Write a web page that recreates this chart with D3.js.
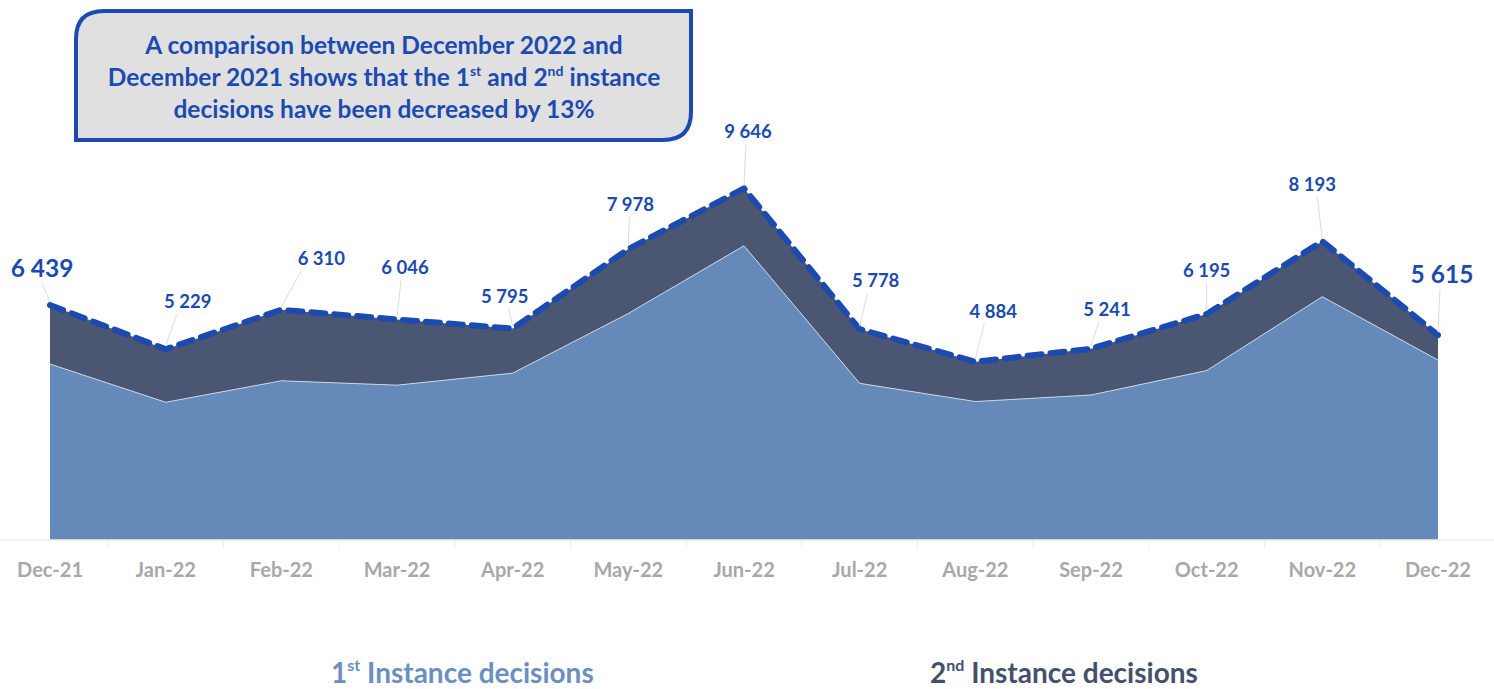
<!DOCTYPE html>
<html>
<head>
<meta charset="utf-8">
<script src="https://cdn.jsdelivr.net/npm/d3@7"></script>
<style>
  body { margin: 0; background: #fff; }
  svg { display: block; font-family: Lato, "Noto Sans", sans-serif; }
</style>
</head>
<body>
<svg id="chart" width="1494" height="689"></svg>
<script>
// months on the category axis
var months = ['Dec-21', 'Jan-22', 'Feb-22', 'Mar-22', 'Apr-22', 'May-22', 'Jun-22',
              'Jul-22', 'Aug-22', 'Sep-22', 'Oct-22', 'Nov-22', 'Dec-22'];
// 1st instance decisions
var first = [4820, 3770, 4360, 4240, 4570, 6210, 8070, 4290, 3790, 3970, 4640, 6670, 4930];
// 2nd instance decisions (dark band on top)
var second = [1619, 1459, 1950, 1806, 1225, 1768, 1576, 1488, 1094, 1271, 1555, 1523, 685];
// totals printed as data labels
var totals = [6439, 5229, 6310, 6046, 5795, 7978, 9646, 5778, 4884, 5241, 6195, 8193, 5615];

// where each data label sits relative to its point (px)
var labelPos = [[-8, -28], [22, -41], [40, -45], [8, -45], [-8, -26], [2, -38], [4, -50],
                [16, -42], [18, -44], [16, -33], [0, -37], [-10, -50], [4, -52]];

var svg = d3.select('#chart');
var blue = '#1b4bb0';

var x = d3.scaleBand().domain(months).range([-7.8, 1495.8]);
var y = d3.scaleLinear().domain([0, 10000]).range([539.5, 175.5]);
var cx = function (d, i) { return x(months[i]) + x.bandwidth() / 2; };

var rows = months.map(function (m, i) { return { month: m, first: first[i], second: second[i] }; });
var stack = d3.stack().keys(['first', 'second'])(rows);

var area = d3.area()
    .x(function (d, i) { return cx(d, i); })
    .y0(function (d) { return y(d[0]); })
    .y1(function (d) { return y(d[1]); });

svg.append('path').datum(stack[1]).attr('d', area).attr('fill', '#4a5672');
svg.append('path').datum(stack[0]).attr('d', area).attr('fill', '#6589b8');

// thin light line on the boundary between the two series
svg.append('path').datum(stack[0])
    .attr('d', d3.line().x(function (d, i) { return cx(d, i); }).y(function (d) { return y(d[1]); }))
    .attr('fill', 'none').attr('stroke', '#c9d3e3').attr('stroke-width', 1);

// axis
var axis = svg.append('g').attr('transform', 'translate(0,' + y(0) + ')')
    .call(d3.axisBottom(x).tickSize(0).tickPadding(23));
axis.select('.domain').attr('stroke', '#e6e6e6');
axis.selectAll('text')
    .attr('font-size', 20).attr('font-weight', 'bold').attr('fill', '#a8a8a8')
    .attr('font-family', 'Lato, sans-serif');
// tick marks between categories
axis.selectAll('.sep').data(months.slice(1)).enter().append('line')
    .attr('x1', function (d) { return x(d); }).attr('x2', function (d) { return x(d); })
    .attr('y1', 0).attr('y2', 8).attr('stroke', '#ececec');

// dashed total line
svg.append('path').datum(totals)
    .attr('d', d3.line().x(function (d, i) { return cx(d, i); }).y(function (d) { return y(d); }))
    .attr('fill', 'none').attr('stroke', blue).attr('stroke-width', 6)
    .attr('stroke-dasharray', '14 9').attr('stroke-linecap', 'round').attr('stroke-linejoin', 'round');

// data labels with leader lines
var lab = svg.append('g').selectAll('g').data(totals).enter().append('g');
lab.append('line')
    .attr('x1', function (d, i) { return cx(d, i); })
    .attr('y1', function (d) { return y(d) - 3; })
    .attr('x2', function (d, i) { return cx(d, i) + labelPos[i][0] * 0.5 - (i === 0 ? 4 : 0); })
    .attr('y2', function (d, i) { return y(d) + labelPos[i][1] + 6; })
    .attr('stroke', '#dcdcdc').attr('stroke-width', 1);
lab.append('text')
    .attr('x', function (d, i) { return cx(d, i) + labelPos[i][0]; })
    .attr('y', function (d, i) { return y(d) + labelPos[i][1]; })
    .attr('text-anchor', 'middle')
    .attr('font-size', function (d, i) { return (i === 0 || i === months.length - 1) ? 24.5 : 18.5; })
    .attr('font-weight', 'bold').attr('fill', blue)
    .text(function (d) { return d3.format(',')(d).replace(',', ' '); });

// title box
var bx0 = 76, by0 = 11, bx1 = 691, by1 = 140, r = 28;
svg.append('path')
    .attr('d', 'M' + bx0 + ',' + (by0 + r) + ' Q' + bx0 + ',' + by0 + ' ' + (bx0 + r) + ',' + by0 +
          ' L' + bx1 + ',' + by0 + ' L' + bx1 + ',' + (by1 - r) +
          ' Q' + bx1 + ',' + by1 + ' ' + (bx1 - r) + ',' + by1 +
          ' L' + bx0 + ',' + by1 + ' Z')
    .attr('fill', '#e0e0e0').attr('stroke', blue).attr('stroke-width', 4);

var title = svg.append('text').attr('text-anchor', 'middle')
    .attr('font-size', 24.5).attr('font-weight', 'bold').attr('fill', blue);
title.append('tspan').attr('x', 384).attr('y', 54).text('A comparison between December 2022 and');
var t2 = title.append('tspan').attr('x', 384).attr('y', 86);
t2.append('tspan').text('December 2021 shows that the 1');
t2.append('tspan').attr('font-size', 14).attr('dy', -10).text('st');
t2.append('tspan').attr('dy', 10).text(' and 2');
t2.append('tspan').attr('font-size', 14).attr('dy', -10).text('nd');
t2.append('tspan').attr('dy', 10).text('  instance');
title.append('tspan').attr('x', 384).attr('y', 118).text('decisions have been decreased by 13%');

// legend
var legend = [
  { sup: 'st', num: '1', x: 331, color: '#6a8fc0' },
  { sup: 'nd', num: '2', x: 930, color: '#44506d' }
];
legend.forEach(function (l) {
  var t = svg.append('text').attr('x', l.x).attr('y', 683)
      .attr('font-size', 28).attr('font-weight', 'bold').attr('fill', l.color);
  t.append('tspan').text(l.num);
  t.append('tspan').attr('font-size', 16).attr('dy', -12).text(l.sup);
  t.append('tspan').attr('dy', 12).text(' Instance decisions');
});
</script>
</body>
</html>
